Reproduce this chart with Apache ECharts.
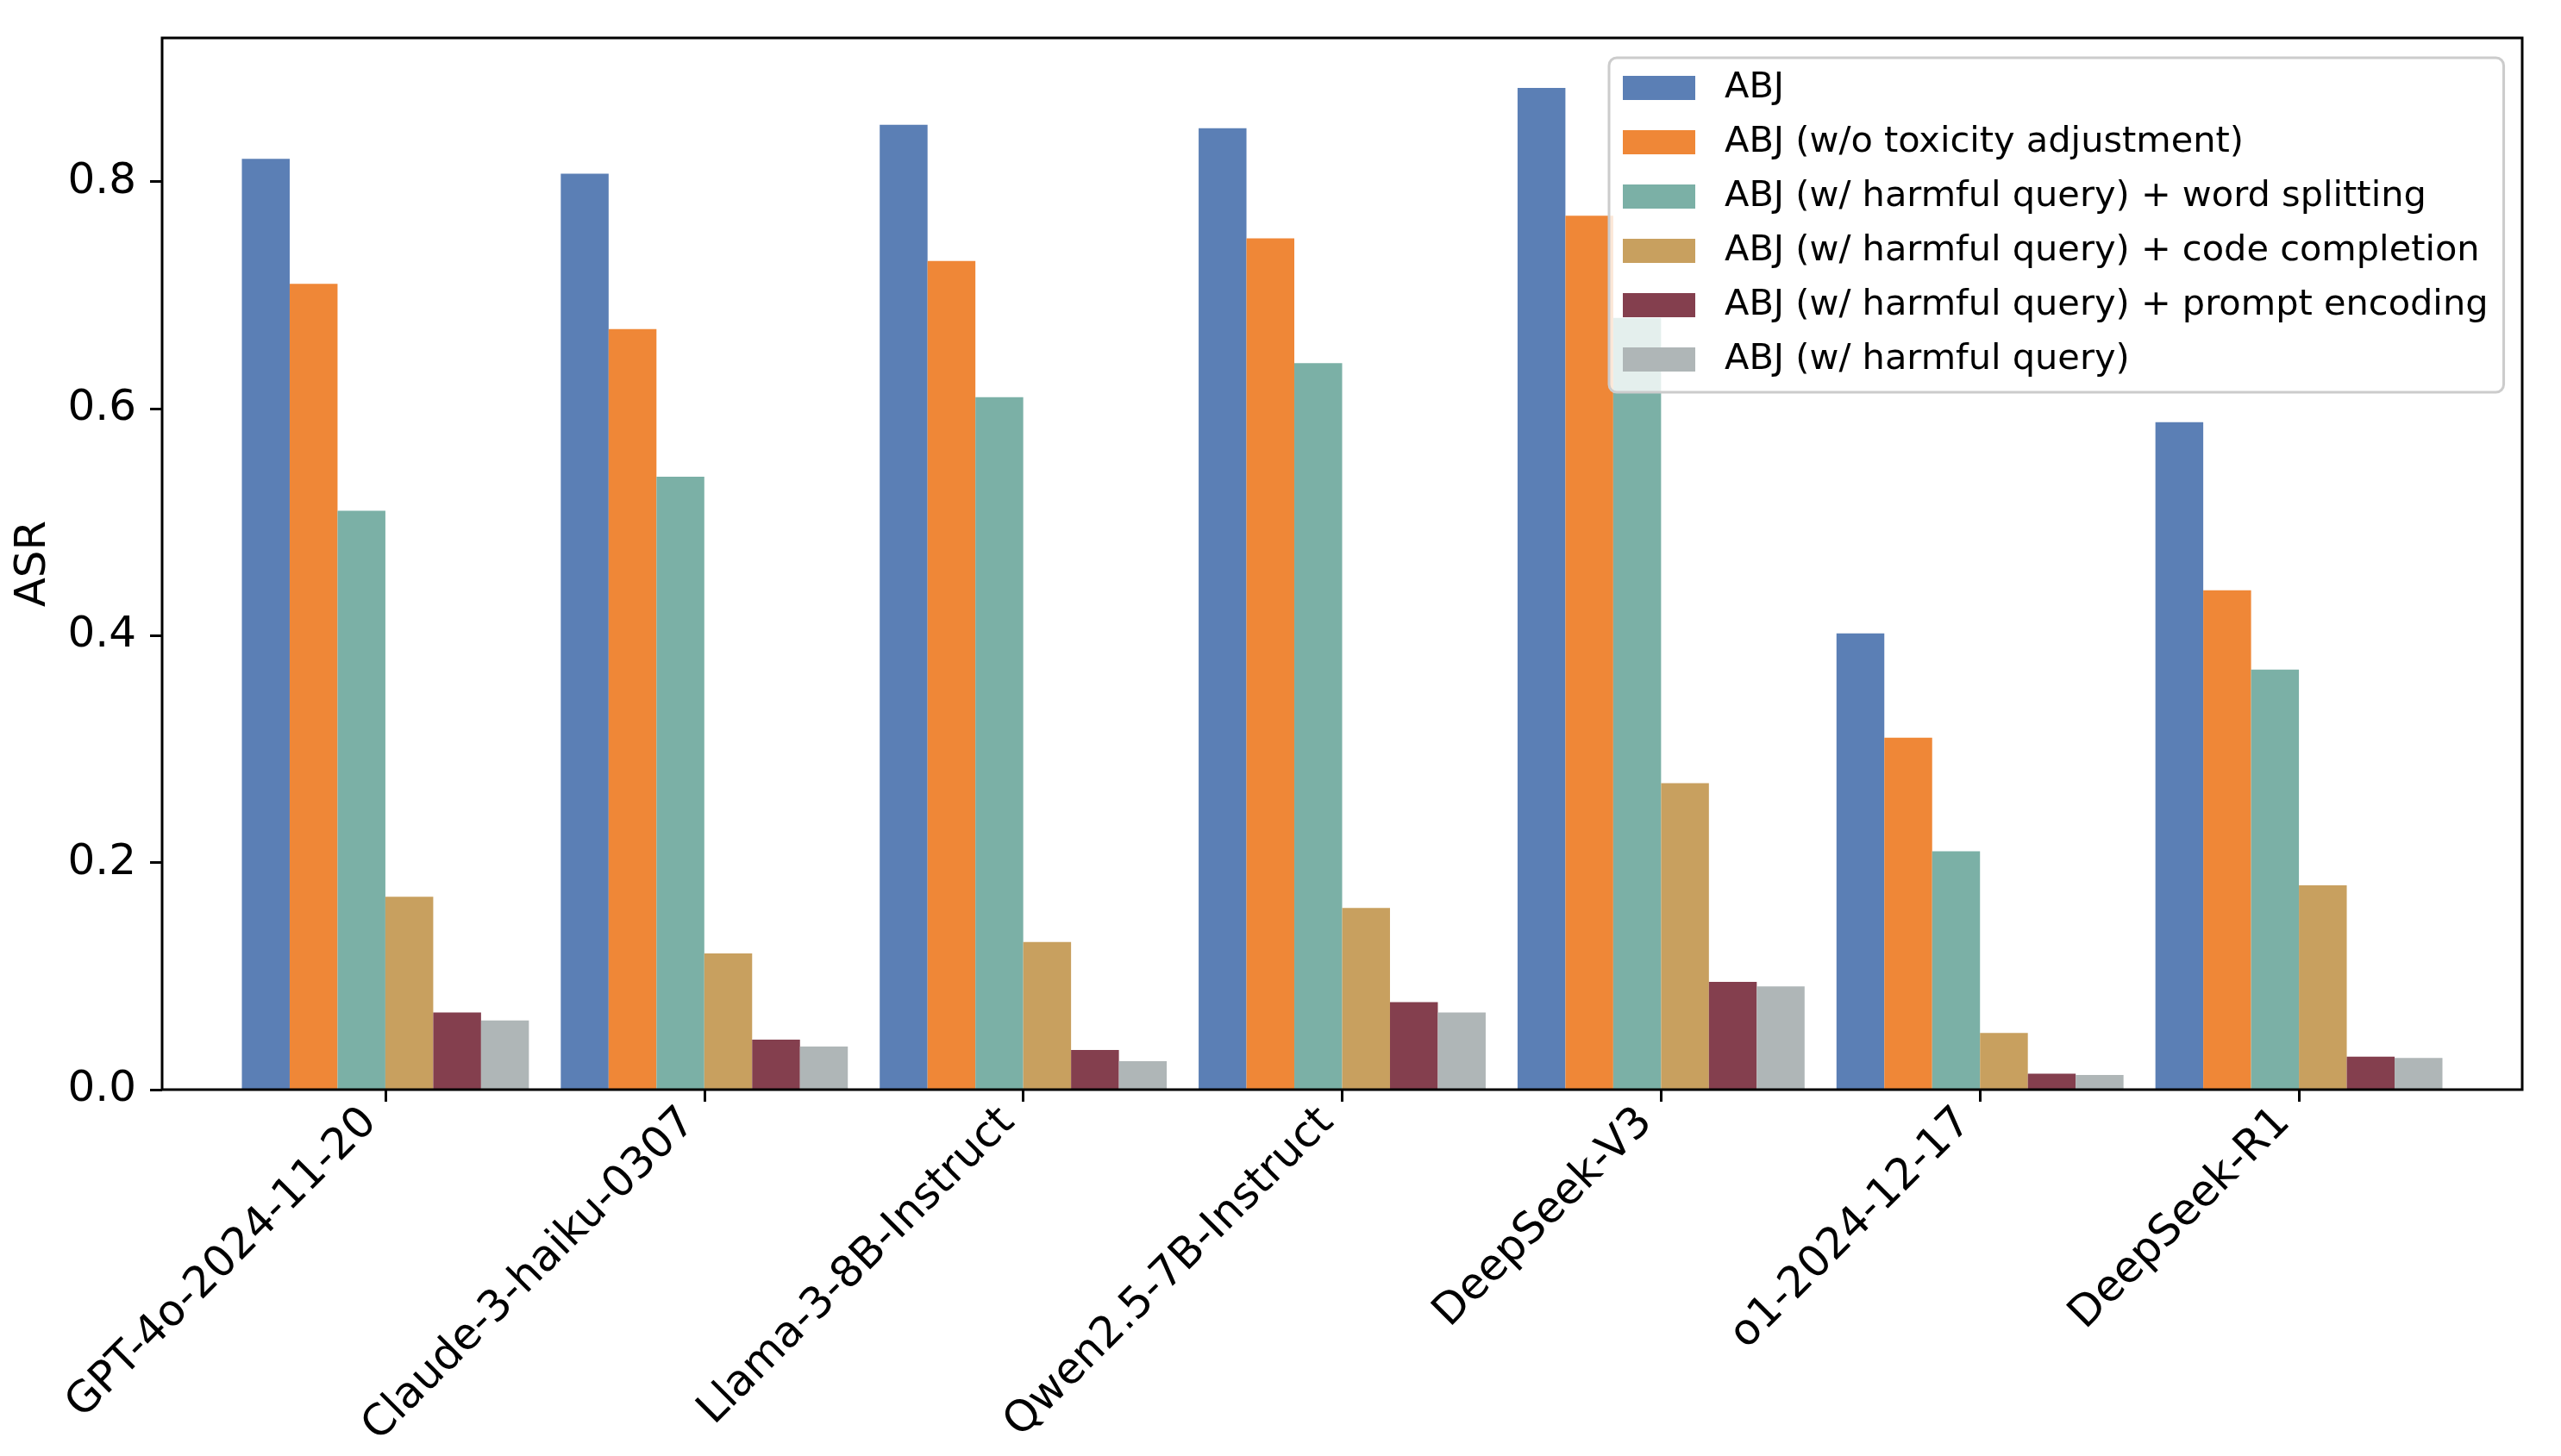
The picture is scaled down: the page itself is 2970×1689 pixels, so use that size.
<!DOCTYPE html>
<html><head><meta charset="utf-8">
<script src="https://cdn.jsdelivr.net/npm/echarts@6/dist/echarts.min.js"></script>
<style>html,body{margin:0;padding:0;background:#fff}#c{width:2970px;height:1689px}</style>
</head><body><div id="c"></div><script>
const categories = ['GPT-4o-2024-11-20','Claude-3-haiku-0307','Llama-3-8B-Instruct','Qwen2.5-7B-Instruct','DeepSeek-V3','o1-2024-12-17','DeepSeek-R1'];
const seriesNames = ['ABJ','ABJ (w/o toxicity adjustment)','ABJ (w/ harmful query) + word splitting','ABJ (w/ harmful query) + code completion','ABJ (w/ harmful query) + prompt encoding','ABJ (w/ harmful query)'];
const abj        = [0.820, 0.807, 0.850, 0.847, 0.8825, 0.402, 0.588];
const abjNoTox   = [0.710, 0.670, 0.730, 0.750, 0.770, 0.310, 0.440];
const abjSplit   = [0.510, 0.540, 0.610, 0.640, 0.680, 0.210, 0.370];
const abjCode    = [0.170, 0.120, 0.130, 0.160, 0.270, 0.050, 0.180];
const abjEncode  = [0.068, 0.044, 0.035, 0.077, 0.095, 0.014, 0.029];
const abjHarm    = [0.061, 0.038, 0.025, 0.068, 0.091, 0.013, 0.028];
const yTicks = [0, 0.2, 0.4, 0.6, 0.8];
const yMax = 0.9266;
const colors = ['#5b7fb5','#ef8737','#7bb0a6','#c8a05f','#843f4e','#afb6b7'];
const values = [abj, abjNoTox, abjSplit, abjCode, abjEncode, abjHarm];
const FONT = 'DejaVu Sans';

const chart = echarts.init(document.getElementById('c'), null, {renderer: 'canvas'});
chart.setOption({
  animation: false,
  backgroundColor: '#fff',
  textStyle: {fontFamily: FONT},
  grid: [
    {left: 188, right: 45, top: 44, bottom: 425, show: true, z: 10,
     backgroundColor: 'transparent', borderColor: '#000', borderWidth: 3},
    {left: 262, right: 119, top: 44, bottom: 425, show: false}
  ],
  xAxis: [
    {gridIndex: 0, type: 'value', min: 0, max: 1, show: false},
    {gridIndex: 1, type: 'category', data: categories, boundaryGap: true,
     axisLine: {show: false},
     axisTick: {show: true, alignWithLabel: true, length: 14, lineStyle: {color: '#000', width: 3}},
     axisLabel: {interval: 0, rotate: 45, fontSize: 50, fontFamily: FONT, color: '#000',
                 margin: 48, verticalAlign: 'bottom', align: 'right'},
     splitLine: {show: false}}
  ],
  yAxis: [
    {gridIndex: 0, type: 'value', min: 0, max: yMax, interval: 0.2,
     axisLine: {show: false},
     axisTick: {show: true, customValues: yTicks, length: 14, lineStyle: {color: '#000', width: 3}},
     axisLabel: {customValues: yTicks, formatter: v => v.toFixed(1),
                 fontSize: 50, fontFamily: FONT, color: '#000', margin: 30},
     splitLine: {show: false},
     name: 'ASR', nameLocation: 'middle', nameGap: 124, nameRotate: 90,
     nameTextStyle: {fontSize: 50, fontFamily: FONT, color: '#000'}},
    {gridIndex: 1, type: 'value', min: 0, max: yMax, show: false}
  ],
  legend: {
    orient: 'vertical', left: 1866, top: 67,
    padding: [11, 18, 14, 16],
    itemWidth: 84, itemHeight: 28, itemGap: 15, icon: 'rect',
    backgroundColor: 'rgba(255,255,255,0.8)', borderColor: '#cccccc', borderWidth: 3, borderRadius: 9,
    textStyle: {fontSize: 41.5, fontFamily: FONT, color: '#000', lineHeight: 48, padding: [0, 0, 0, 29]},
    data: seriesNames
  },
  series: seriesNames.map((name, i) => ({
    name: name, type: 'bar', xAxisIndex: 1, yAxisIndex: 1,
    barGap: '0%', barCategoryGap: '10%',
    itemStyle: {color: colors[i]},
    data: values[i]
  }))
});
</script></body></html>
